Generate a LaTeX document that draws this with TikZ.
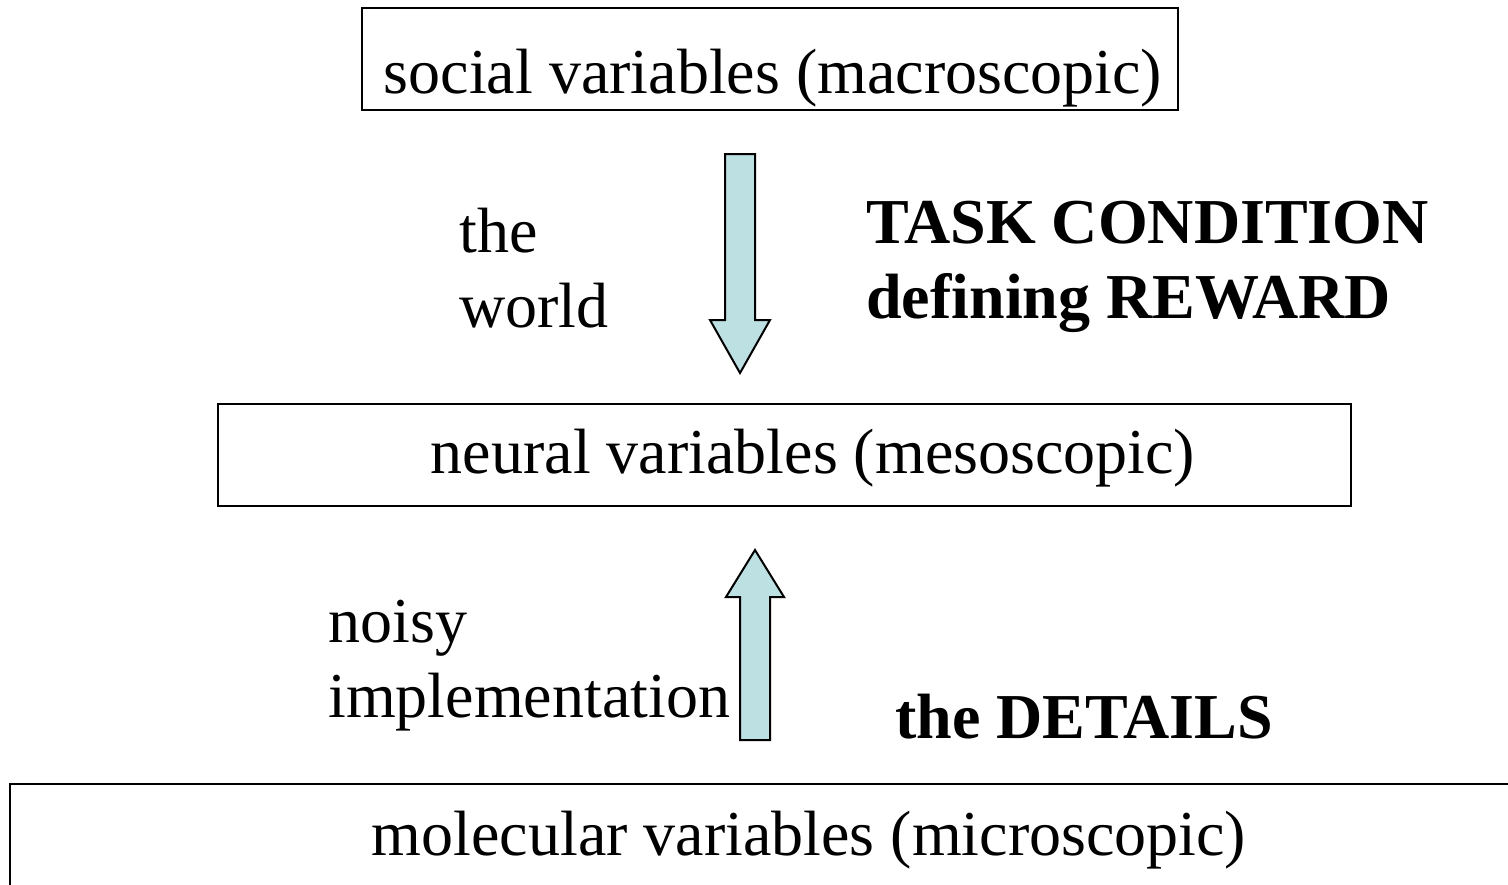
\documentclass[tikz,border=0pt]{standalone}
\usepackage{fontspec}
\setmainfont{Liberation Serif}
\definecolor{arrowfill}{RGB}{189,224,227}

\begin{document}
\begin{tikzpicture}[x=0.5pt, y=-0.5pt,
    varbox/.style={draw, line width=1pt, inner sep=0pt},
    lbl/.style={font=\fontsize{32}{37.5}\selectfont, inner sep=0pt, align=left},
    fatarrow/.style={draw, line width=1pt, fill=arrowfill, line join=miter}]
    \clip (0,0) rectangle (1508,884);
    % the three levels
    \node[varbox, minimum width=408pt, minimum height=51pt] (social) at (770,59) {};
    \node[varbox, minimum width=566.5pt, minimum height=51pt] (neural) at (784.5,455) {};
    \node[varbox, line width=1.3pt, minimum width=760pt, minimum height=58pt] (molecular) at (770,842) {};
    \node[lbl, anchor=base] (socialtxt) at (773,93) {social variables (macroscopic)};
    \node[lbl, anchor=base] (neuraltxt) at (813,473) {neural variables (mesoscopic)};
    \node[lbl, anchor=base] (moleculartxt) at (809,855) {molecular variables (microscopic)};
    % arrows
    \draw[fatarrow] (725,154) -- (755,154) -- (755,320) -- (770,320) -- (740,373)
        -- (710,320) -- (725,320) -- cycle;
    \draw[fatarrow] (740,740) -- (770,740) -- (770,597) -- (784,597) -- (755,550)
        -- (726,597) -- (740,597) -- cycle;
    % side labels (base = last line)
    \node[lbl, anchor=base west] (world) at (459,327) {the\\world};
    \node[lbl, anchor=base west] (noisy) at (328,717) {noisy\\implementation};
    \node[lbl, anchor=base west, font=\fontsize{32}{37.5}\selectfont\bfseries] (task) at (866,318) {TASK CONDITION\\defining REWARD};
    \node[lbl, anchor=base west, font=\fontsize{32}{37.5}\selectfont\bfseries] (details) at (895,738) {the DETAILS};
\end{tikzpicture}
\end{document}
